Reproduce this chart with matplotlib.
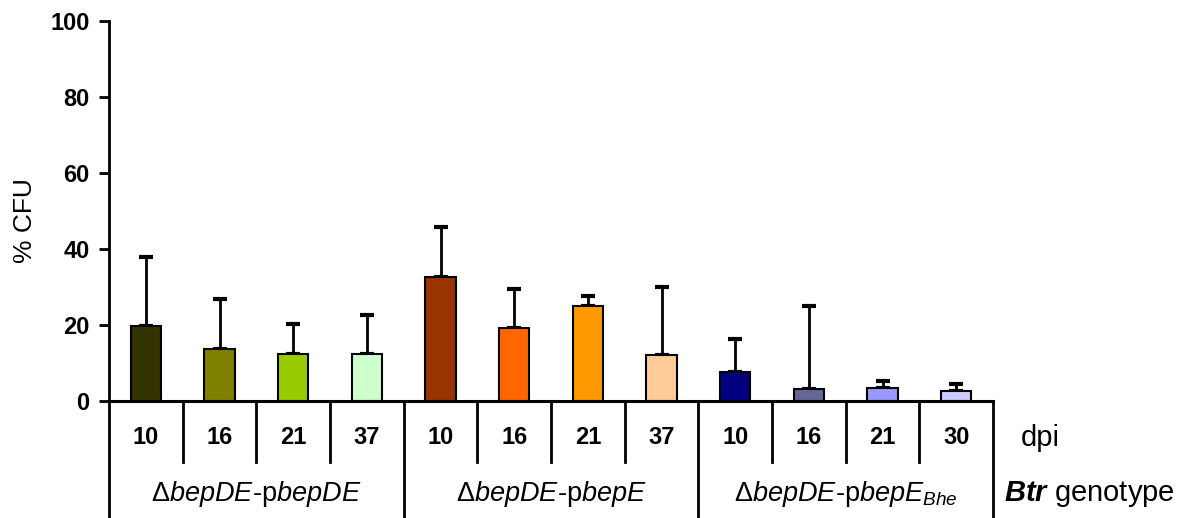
import matplotlib
matplotlib.use("Agg")
import matplotlib.pyplot as plt
from matplotlib.transforms import blended_transform_factory

plt.rcParams['font.family'] = ['Liberation Sans', 'DejaVu Sans']
plt.rcParams['mathtext.fontset'] = 'custom'
plt.rcParams['mathtext.rm'] = 'Liberation Sans'
plt.rcParams['mathtext.it'] = 'Liberation Sans:italic'
plt.rcParams['mathtext.bf'] = 'Liberation Sans:bold'
plt.rcParams['mathtext.bfit'] = 'Liberation Sans:italic:bold'

dpi_labels = ["10", "16", "21", "37", "10", "16", "21", "37", "10", "16", "21", "30"]
means = [19.8, 13.8, 12.5, 12.5, 32.7, 19.3, 25.0, 12.2, 7.6, 3.2, 3.3, 2.7]
upper = [37.8, 26.9, 20.3, 22.7, 45.9, 29.6, 27.6, 30.1, 16.4, 25.0, 5.2, 4.5]
colors = ["#333300", "#808000", "#99CC00", "#CCFFCC",
          "#993300", "#FF6600", "#FF9900", "#FFCC99",
          "#000080", "#666699", "#9999FF", "#CCCCFF"]
groups = [r"$\Delta\mathit{bepDE}$-p$\mathit{bepDE}$",
          r"$\Delta\mathit{bepDE}$-p$\mathit{bepE}$",
          r"$\Delta\mathit{bepDE}$-p$\mathit{bepE}_{\mathit{Bhe}}$"]
group_size = 4
yticks = [0, 20, 40, 60, 80, 100]

fig = plt.figure(figsize=(11.87, 5.18), dpi=100)
ax = fig.add_axes([109/1187, 117/518, 884/1187, 380/518])

x = list(range(len(means)))
errs = [u - m for u, m in zip(upper, means)]
ax.bar(x, means, width=0.41, color=colors, edgecolor='black', linewidth=1.5, zorder=2)
ax.errorbar(x, means, yerr=[[0]*len(means), errs], fmt='none', ecolor='black',
            elinewidth=2, capsize=5, capthick=3, zorder=1)

ax.set_xlim(-0.5, len(means) - 0.5)
ax.set_ylim(0, 100)
ax.set_yticks(yticks)
ax.set_yticklabels([str(t) for t in yticks], fontsize=17, fontweight='bold')
ax.tick_params(axis='y', direction='out', length=7, width=2, pad=7)
ax.set_xticks([])
for s in ['top', 'right']:
    ax.spines[s].set_visible(False)
ax.spines['left'].set_linewidth(2)
ax.spines['bottom'].set_linewidth(2.2)
ax.set_ylabel("% CFU", fontsize=19)
ax.yaxis.set_label_coords(-0.0815, 0.476)

tr = blended_transform_factory(ax.transData, ax.transAxes)
# separators
for i in range(len(means) + 1):
    xb = i - 0.5
    if i % group_size == 0:
        ax.plot([xb, xb], [0, -0.31], transform=tr, color='black', lw=2, clip_on=False)
    else:
        ax.plot([xb, xb], [0, -0.16], transform=tr, color='black', lw=2, clip_on=False)

for i, lab in enumerate(dpi_labels):
    ax.text(i, -0.097, lab, transform=tr, ha='center', va='center',
            fontsize=17, fontweight='bold')

for g, lab in enumerate(groups):
    xc = g * group_size + (group_size - 1) / 2
    ax.text(xc, -0.245, lab, transform=tr, ha='center', va='center', fontsize=19.5)

ax.text(11.5 + 0.37, -0.097, "dpi", transform=tr, ha='left', va='center', fontsize=21)
ax.text(11.5 + 0.15, -0.245, r"$\mathbfit{Btr}$ genotype", transform=tr,
        ha='left', va='center', fontsize=21)

fig.savefig("out.png", dpi=100)
